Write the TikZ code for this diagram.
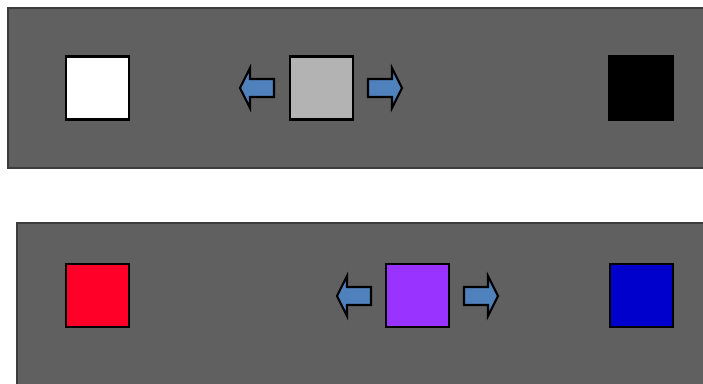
\documentclass[tikz,border=0pt]{standalone}
\usetikzlibrary{positioning}
\definecolor{panelgray}{HTML}{606060}
\definecolor{paneledge}{HTML}{3C3C3C}
\definecolor{midgray}{HTML}{B3B3B3}
\definecolor{swred}{HTML}{FF0028}
\definecolor{swpurple}{HTML}{9933FF}
\definecolor{swblue}{HTML}{0000CC}
\definecolor{arrblue}{HTML}{4F81BD}

\begin{document}
\begin{tikzpicture}[
  x=0.03cm, y=-0.03cm,
  panel/.style={fill=panelgray, draw=paneledge, line width=1pt},
  swatch/.style={draw=black, line width=2.2pt, fill=#1,
    minimum size=1.9cm, inner sep=0pt},
  blkarr/.style={draw=black, line width=1.8pt, fill=arrblue, line join=miter},
  leftarr/.pic={\draw[blkarr] (0,0) -- (10,-20) -- (10,-9) -- (34,-9)
    -- (34,9) -- (10,9) -- (10,20) -- cycle;},
]
\useasboundingbox (0,0) rectangle (703,383);

% Panels
\draw[panel] (8,8) rectangle (712,168);
\draw[panel] (17,223) rectangle (712,392);

% =============================================
% Top row: grayscale
% =============================================
\node[swatch=white] (white) at (97.5,88) {};
\node[swatch=midgray] (grey) at (321.5,88) {};
\node[swatch=black] (black) at (641,88) {};

\pic at (240,88) {leftarr};
\pic[xscale=-1] at (402,88) {leftarr};

% =============================================
% Bottom row: colour
% =============================================
\node[swatch=swred] (red) at (97.5,295.5) {};
\node[swatch=swpurple] (purple) at (417.5,295.5) {};
\node[swatch=swblue] (blue) at (641.5,295.5) {};

\pic at (337,296) {leftarr};
\pic[xscale=-1] at (498,296) {leftarr};

\end{tikzpicture}
\end{document}
